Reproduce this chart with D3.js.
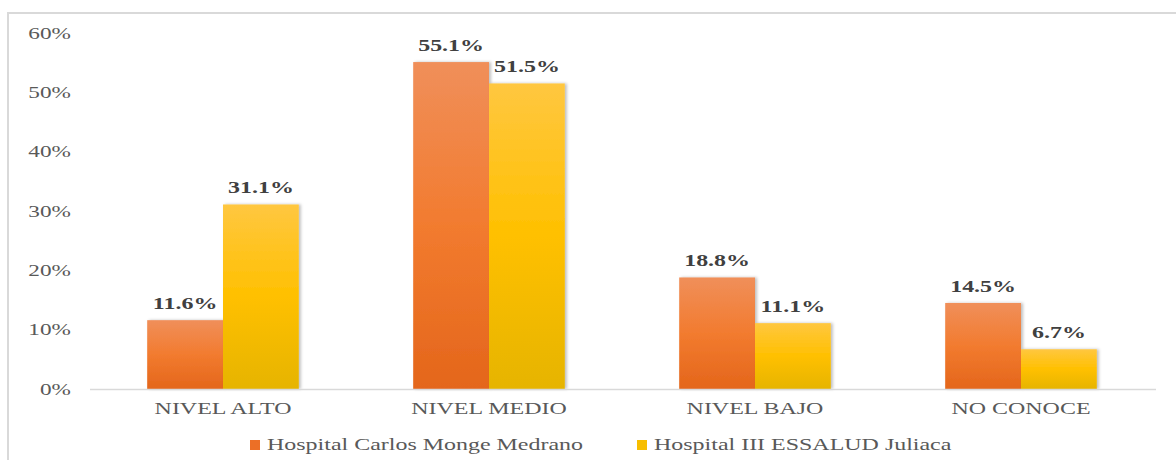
<!DOCTYPE html>
<html>
<head>
<meta charset="utf-8">
<script src="https://cdn.jsdelivr.net/npm/d3@7"></script>
<style>
html,body{margin:0;padding:0;background:#fff;}
svg{display:block;}
</style>
</head>
<body>
<svg id="chart" width="1176" height="460"></svg>
<script>
const categories = ["NIVEL ALTO", "NIVEL MEDIO", "NIVEL BAJO", "NO CONOCE"];
const seriesNames = ["Hospital Carlos Monge Medrano", "Hospital III ESSALUD Juliaca"];
const carlosMonge = [11.6, 55.1, 18.8, 14.5];
const essalud = [31.1, 51.5, 11.1, 6.7];
const yTicks = [0, 10, 20, 30, 40, 50, 60];

const SX = 1.41;
const svg = d3.select("#chart");
const defs = svg.append("defs");

function grad(id, stops){
  const g = defs.append("linearGradient").attr("id", id).attr("x1",0).attr("y1",0).attr("x2",0).attr("y2",1);
  stops.forEach(s => g.append("stop").attr("offset", s[0]).attr("stop-color", s[1]));
}
grad("gOrange", [[0,"#F08F5A"],[0.5,"#F27B2F"],[1,"#E4661B"]]);
grad("gYellow", [[0,"#FFC740"],[0.5,"#FFC000"],[1,"#E6B400"]]);
const f = defs.append("filter").attr("id","shadow").attr("x","-10%").attr("y","-10%").attr("width","130%").attr("height","120%");
f.append("feDropShadow").attr("dx",2).attr("dy",0).attr("stdDeviation",1.5).attr("flood-color","#000").attr("flood-opacity",0.25);

// border
svg.append("rect").attr("x",8).attr("y",13).attr("width",1300).attr("height",600)
  .attr("fill","none").attr("stroke","#d9d9d9").attr("stroke-width",2);

const x0 = d3.scaleBand().domain(categories).range([90, 1154]).paddingInner(0.43).paddingOuter(0.215);
const x1 = d3.scaleBand().domain(seriesNames).range([0, x0.bandwidth()]);
const y = d3.scaleLinear().domain([0, 60]).range([389, 33]);

const fills = ["url(#gOrange)", "url(#gYellow)"];
const legendColors = ["#EC6F26", "#F7BE00"];
const data = [carlosMonge, essalud];

const FONT = "Liberation Serif, 'Times New Roman', serif";

// y labels
yTicks.forEach(t => {
  svg.append("text")
    .attr("transform", `translate(71,${y(t)+5.5}) scale(${SX},1)`)
    .attr("text-anchor","end")
    .attr("font-family",FONT)
    .attr("font-size",16.5)
    .attr("fill","#595959")
    .text(t + "%");
});

// bars
const groups = svg.append("g").selectAll("g").data(categories).join("g")
  .attr("transform", d => `translate(${x0(d)},0)`);
seriesNames.forEach((s, si) => {
  groups.append("rect")
    .attr("x", x1(s))
    .attr("y", (d,i) => y(data[si][i]))
    .attr("width", x1.bandwidth())
    .attr("height", (d,i) => y(0) - y(data[si][i]))
    .attr("fill", fills[si])
    .attr("filter","url(#shadow)");
  groups.append("text")
    .attr("transform", (d,i) => `translate(${x1(s) + x1.bandwidth()/2},${y(data[si][i]) - 11}) scale(${SX},1)`)
    .attr("text-anchor","middle")
    .attr("font-family",FONT)
    .attr("font-weight","bold")
    .attr("font-size",17)
    .attr("fill","#404040")
    .text((d,i) => data[si][i].toFixed(1) + "%");
});

// baseline
svg.append("line").attr("x1",90).attr("x2",1156).attr("y1",389.5).attr("y2",389.5)
  .attr("stroke","#d9d9d9").attr("stroke-width",1.5);

// category labels
categories.forEach(c => {
  svg.append("text")
    .attr("transform", `translate(${x0(c)+x0.bandwidth()/2},413.5) scale(${SX},1)`)
    .attr("text-anchor","middle")
    .attr("font-family",FONT)
    .attr("font-size",17)
    .attr("fill","#595959")
    .text(c);
});

// legend
const legendX = [250, 637];
seriesNames.forEach((s, i) => {
  svg.append("rect").attr("x", legendX[i]).attr("y", 440).attr("width", 10).attr("height", 10).attr("fill", legendColors[i]);
  svg.append("text")
    .attr("transform", `translate(${legendX[i]+17},450) scale(${SX},1)`)
    .attr("font-family",FONT)
    .attr("font-size",17)
    .attr("fill","#595959")
    .text(s);
});
</script>
</body>
</html>
